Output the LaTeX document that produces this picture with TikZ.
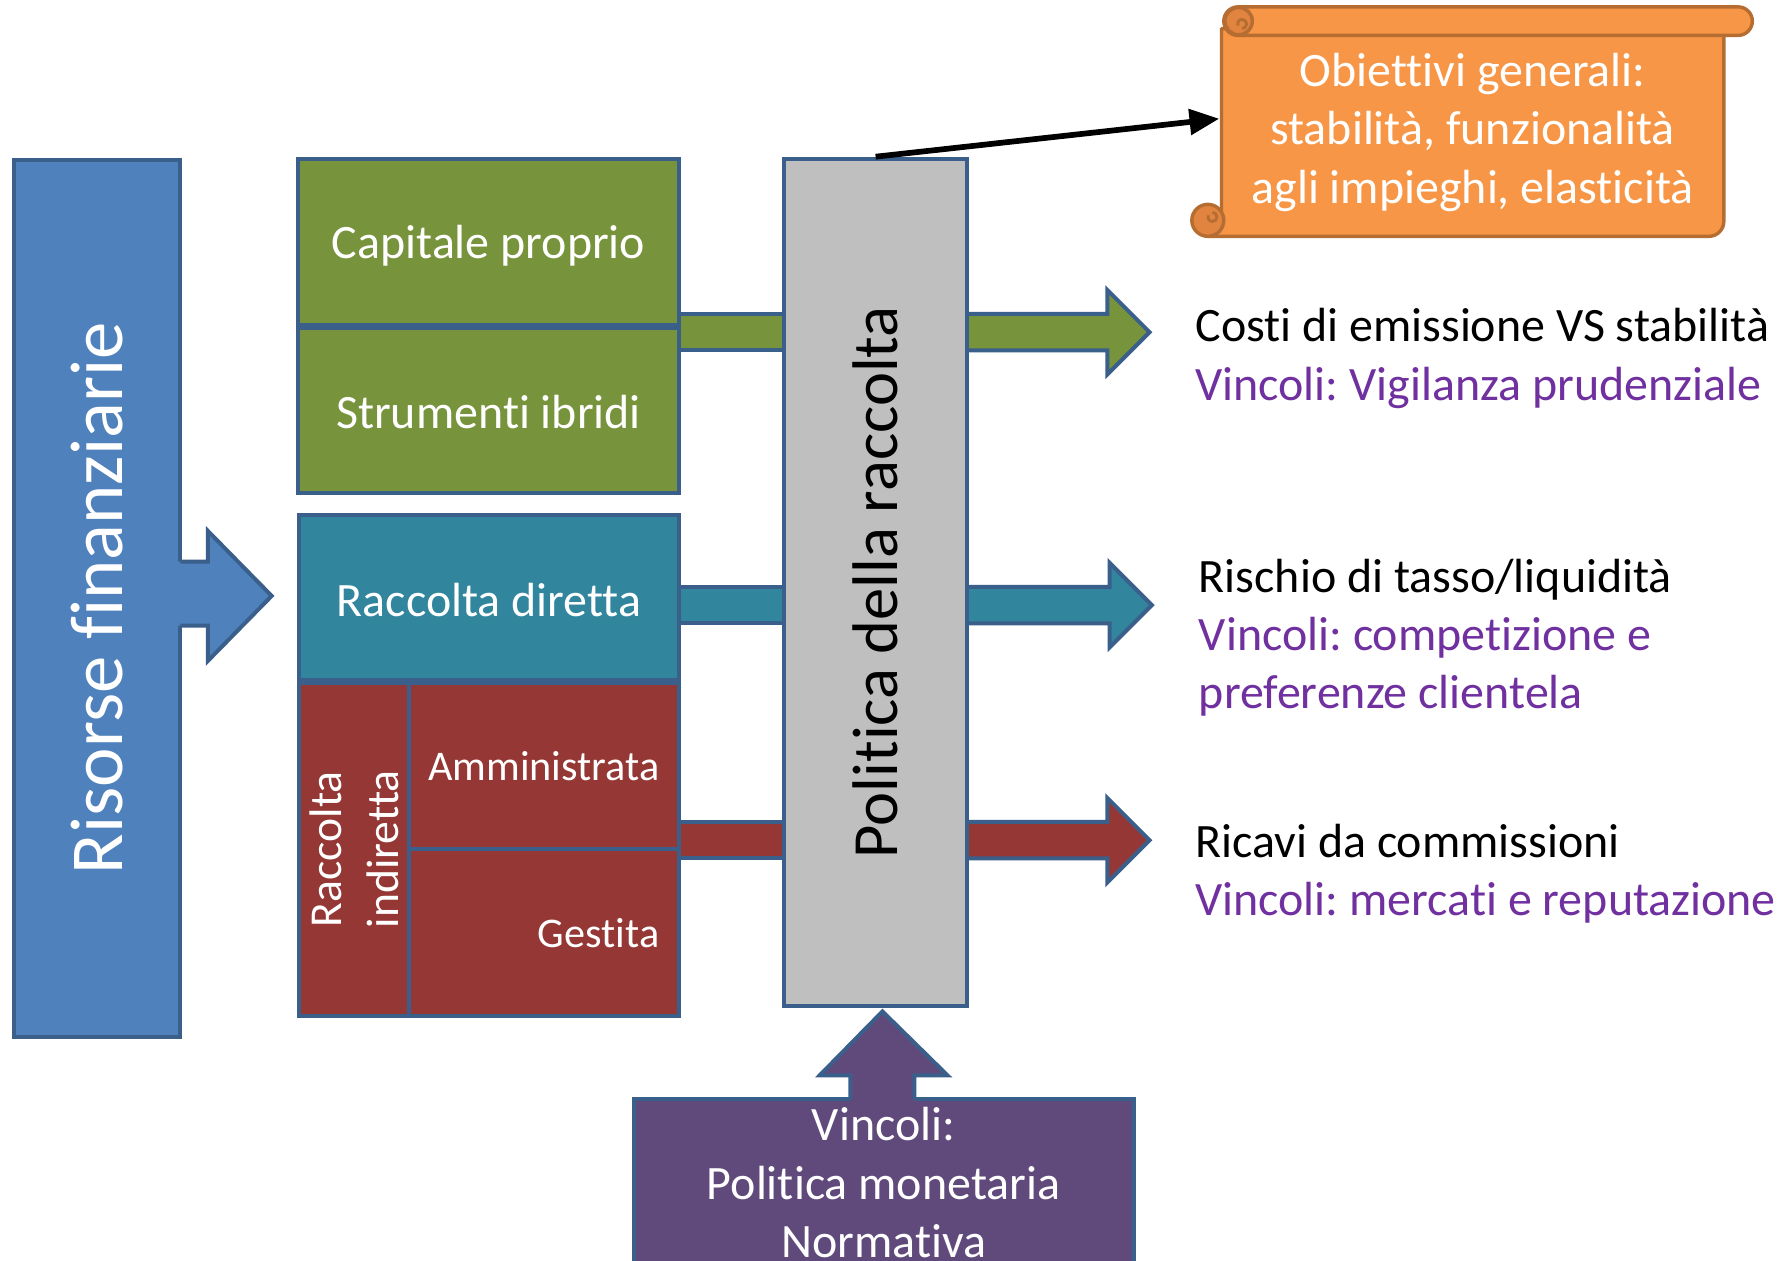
\documentclass[tikz,border=0pt]{standalone}
\usepackage{fontspec}
\setmainfont{Carlito}[Ligatures={NoCommon}]
\frenchspacing
\usetikzlibrary{arrows.meta}
\definecolor{bord}{HTML}{3A5F8B}
\definecolor{cblue}{HTML}{4F81BD}
\definecolor{cgreen}{HTML}{77933C}
\definecolor{cteal}{HTML}{31859C}
\definecolor{cred}{HTML}{953735}
\definecolor{cgray}{HTML}{BFBFBF}
\definecolor{cpurp}{HTML}{604A7B}
\definecolor{corange}{HTML}{F79646}
\definecolor{corbord}{HTML}{B66D31}
\definecolor{corcurl}{HTML}{E0843F}
\definecolor{vtext}{HTML}{7030A0}
\begin{document}
\begin{tikzpicture}[x=1pt,y=-1pt,
  blk/.style={draw=bord, line width=3.5pt, inner sep=0pt, text=white},
  edge/.style={draw=bord, line width=3.5pt, line join=miter},
  f41/.style={font=\fontsize{42}{51}\selectfont},
  f38/.style={font=\fontsize{40}{50}\selectfont},
  f37/.style={font=\fontsize{37}{50}\selectfont},
  scrollst/.style={fill=corange, draw=corbord, line width=3pt, line join=round},
]
\clip (0,0) rectangle (1568,1104);
\fill[white] (0,0) rectangle (1568,1104);

% --- left source box and its arrow
\node[blk, fill=cblue, minimum width=146pt, minimum height=768pt] (ris) at (85,524) {};
\node[rotate=90, text=white, font=\fontsize{65.5}{70}\selectfont] (ristxt) at (ris.center) {Risorse finanziarie};
\fill[cblue] (155,492) -- (182,492) -- (182,465) -- (238,522) -- (182,579) -- (182,548) -- (155,548) -- cycle;
\draw[edge] (158,492) -- (182,492) -- (182,465) -- (238,522) -- (182,579) -- (182,548) -- (158,548);

% --- stems between blocks and policy box
\filldraw[fill=cgreen, edge] (595,275) rectangle (687,307);
\filldraw[fill=cteal, edge] (595,514) rectangle (687,546);
\filldraw[fill=cred, edge] (595,720) rectangle (687,752);

% --- outgoing arrows
\filldraw[fill=cgreen, edge] (847,275) -- (970,275) -- (970,254) -- (1007,291) -- (970,328) -- (970,307) -- (847,307) -- cycle;
\filldraw[fill=cteal, edge] (847,514) -- (972,514) -- (972,493) -- (1009,530) -- (972,567) -- (972,546) -- (847,546) -- cycle;
\filldraw[fill=cred, edge] (847,720) -- (970,720) -- (970,699) -- (1007,736) -- (970,773) -- (970,752) -- (847,752) -- cycle;

% --- blocks
\node[blk, fill=cgreen, minimum width=334pt, minimum height=146pt] (cap) at (428,212) {};
\node[text=white, f41] (captxt) at (428,215) {Capitale proprio};
\node[blk, fill=cgreen, minimum width=334pt, minimum height=145pt] (ibr) at (428,359.5) {};
\node[text=white, f41] (ibrtxt) at (428,361) {Strumenti ibridi};
\node[blk, fill=cteal, minimum width=333pt, minimum height=145pt] (dir) at (428.5,523.5) {};
\node[text=white, f41] (dirtxt) at (428.5,525.5) {Raccolta diretta};
\node[blk, fill=cred, minimum width=96pt, minimum height=292pt] (ind) at (310,744) {};
\node[rotate=90, text=white, f38, align=center] (indtxt) at (ind.center) {Raccolta\\indiretta};
\node[blk, fill=cred, minimum width=237pt, minimum height=146pt] (amm) at (476.5,671) {};
\node[text=white, f37, anchor=east, inner sep=0pt] (ammtxt) at ([xshift=-19pt]amm.east) {Amministrata};
\node[blk, fill=cred, minimum width=237pt, minimum height=146pt] (ges) at (476.5,817) {};
\node[text=white, f37, anchor=east, inner sep=0pt] (gestxt) at ([xshift=-19pt]ges.east) {Gestita};

% --- policy box
\node[blk, fill=cgray, minimum width=160pt, minimum height=742pt] (pol) at (767,510) {};
\node[rotate=90, text=black, font=\fontsize{56.5}{60}\selectfont] (poltxt) at (pol.center) {Politica della raccolta};

% --- constraints box with up arrow
\node[blk, fill=cpurp, minimum width=438pt, minimum height=147pt] (vin) at (774,1036.5) {};
\node[text=white, f41, align=center] (vintxt) at (774,1036) {Vincoli:\\Politica monetaria\\Normativa};
\fill[cpurp] (745,966) -- (745,942) -- (718,942) -- (773,886) -- (830,942) -- (801,942) -- (801,966) -- cycle;
\draw[edge] (745,963) -- (745,942) -- (718,942) -- (773,886) -- (830,942) -- (801,942) -- (801,963);

% --- scroll
\path[scrollst] (1070,25) -- (1510,25) -- (1510,194) arc (0:90:13) -- (1058,207) -- (1058,190) -- (1070,190) -- cycle;
\filldraw[fill=corcurl, draw=corbord, line width=3pt] (1058,193) circle (14);
\draw[corbord, line width=2.5pt] (1062,186) arc (-90:200:4);
\path[scrollst, rounded corners=12.5pt] (1072,6) rectangle (1535,31);
\filldraw[fill=corcurl, draw=corbord, line width=3pt] (1085,18.5) circle (12);
\draw[corbord, line width=2.5pt] (1088,25) arc (90:-200:4);
\coordinate (scrollin) at (1068,104);
\node[text=white, f41, align=center] (obtxt) at (1290,116) {Obiettivi generali:\\stabilità, funzionalità\\agli impieghi, elasticità};

% --- connector
\draw[line width=5pt, -{Triangle[length=26pt,width=22pt]}] (pol.north) -- (scrollin);

% --- right texts
\node[f41, anchor=west, align=left, inner sep=0pt] (t1) at (1047,314) {Costi di emissione VS stabilità\\\textcolor{vtext}{Vincoli: Vigilanza prudenziale}};
\node[f41, anchor=west, align=left, inner sep=0pt] (t2) at (1050,558.5) {Rischio di tasso/liquidità\\\textcolor{vtext}{Vincoli: competizione e}\\\textcolor{vtext}{preferenze clientela}};
\node[f41, anchor=west, align=left, inner sep=0pt] (t3) at (1047,765) {Ricavi da commissioni\\\textcolor{vtext}{Vincoli: mercati e reputazione}};
\end{tikzpicture}
\end{document}
